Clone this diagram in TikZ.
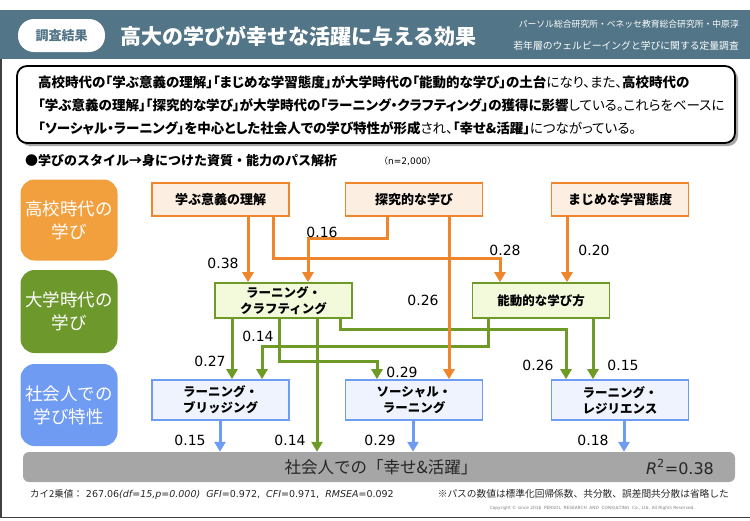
\documentclass[tikz,border=0pt]{standalone}
\usepackage{fontspec}
\setmainfont{Noto Sans CJK JP}
\newfontfamily\pfont[RawFeature=+palt]{Noto Sans CJK JP}
\newfontfamily\vfont{DejaVu Sans}
\usetikzlibrary{arrows.meta}
\definecolor{hdr}{HTML}{527587}
\definecolor{corange}{HTML}{F2A03E}
\definecolor{cgreen}{HTML}{6C982C}
\definecolor{cblue}{HTML}{6F9BF2}
\definecolor{oline}{HTML}{F0862C}
\definecolor{ofill}{HTML}{FDEEE2}
\definecolor{gline}{HTML}{6E9A28}
\definecolor{gfill}{HTML}{F2FADB}
\definecolor{bline}{HTML}{6E9CF2}
\definecolor{bfill}{HTML}{EEF3FD}
\definecolor{outg}{HTML}{A6A6A6}
\begin{document}
\begin{tikzpicture}[x=1pt,y=-1pt,
  catbox/.style={rounded corners=14pt, minimum width=97pt, minimum height=81pt, text=white, align=center,
     font=\fontsize{17.5}{23}\selectfont, inner sep=0pt},
  obox/.style={draw=oline, line width=1.6pt, fill=ofill, minimum width=137pt, minimum height=33pt,
     font=\bfseries\fontsize{13}{16}\selectfont, inner sep=0pt, align=center},
  gbox/.style={draw=gline, line width=1.6pt, fill=gfill, minimum width=137pt, minimum height=35pt,
     font=\bfseries\fontsize{12.5}{16}\selectfont, inner sep=0pt, align=center},
  bbox/.style={draw=bline, line width=1.6pt, fill=bfill, minimum width=137pt, minimum height=40pt,
     font=\bfseries\fontsize{12.5}{16}\selectfont, inner sep=0pt, align=center},
  oarr/.style={draw=oline, line width=3pt, -{Triangle[width=11pt,length=10pt]}},
  garr/.style={draw=gline, line width=3pt, -{Triangle[width=11pt,length=10pt]}},
  barr/.style={draw=bline, line width=3pt, -{Triangle[width=11pt,length=10pt]}},
  num/.style={font=\vfont\fontsize{14}{16}\selectfont, inner sep=0pt},
  sumtxt/.style={anchor=west, inner sep=0pt, font=\pfont\fontsize{13.5}{16}\selectfont}
]
\useasboundingbox (0,0) rectangle (750,520);
% frame
\draw[line width=1.5pt, draw=black!75] (0.75,10) -- (0.75,517.5) -- (750,517.5);
% header
\fill[hdr] (0,10) rectangle (750,59);
\node[fill=white, rounded corners=16pt, minimum width=87pt, minimum height=33pt, inner sep=0pt,
  text=hdr, font=\bfseries\fontsize{13}{15}\selectfont] (pill) at (61.5,35.5) {調査結果};
\node[anchor=west, text=white, inner sep=0pt, font=\bfseries\fontsize{21}{24}\selectfont] (title) at (120,36) {高大の学びが幸せな活躍に与える効果};
\node[anchor=east, text=white, inner sep=0pt, font=\fontsize{8.8}{10}\selectfont] (src1) at (739,24) {パーソル総合研究所・ベネッセ教育総合研究所・中原淳};
\node[anchor=east, text=white, inner sep=0pt, font=\fontsize{9.8}{11}\selectfont] (src2) at (739,46) {若年層のウェルビーイングと学びに関する定量調査};
% summary box
\fill[black!35, rounded corners=10pt] (20,69) rectangle (738,146);
\draw[fill=white, line width=1.8pt, rounded corners=10pt] (17,66) rectangle (735,143);
\node[sumtxt] (s1) at (38,82) {\textbf{高校時代の「学ぶ意義の理解」「まじめな学習態度」が大学時代の「能動的な学び」の土台}になり、また、\textbf{高校時代の}};
\node[sumtxt] (s2) at (38,105) {\textbf{「学ぶ意義の理解」「探究的な学び」が大学時代の「ラーニング・クラフティング」の獲得に影響}している。これらをベースに};
\node[sumtxt] (s3) at (38,128) {\textbf{「ソーシャル・ラーニング」を中心とした社会人での学び特性が形成}され、\textbf{「幸せ\&活躍」}につながっている。};
% section heading
\node[anchor=west, inner sep=0pt, font=\bfseries\fontsize{13}{15}\selectfont] (sec) at (25,161) {●学びのスタイル→身につけた資質・能力のパス解析};
\node[anchor=west, inner sep=0pt, font=\fontsize{9}{11}\selectfont] (nn) at (379,161) {（{\vfont n=2,000}）};
% category boxes
\node[catbox, fill=corange] (k1) at (69,220) {高校時代の\\学び};
\node[catbox, fill=cgreen, minimum height=83pt] (k2) at (69,311.5) {大学時代の\\学び};
\node[catbox, fill=cblue, minimum height=82pt] (k3) at (69,405) {社会人での\\学び特性};
% path nodes
\node[obox] (A) at (220.5,199.5) {学ぶ意義の理解};
\node[obox] (B) at (414,199.5) {探究的な学び};
\node[obox] (C) at (620,199.5) {まじめな学習態度};
\node[gbox] (D) at (283.5,300.5) {ラーニング・\\クラフティング};
\node[gbox] (E) at (541,300.5) {能動的な学び方};
\node[bbox] (F) at (220.5,400) {ラーニング・\\ブリッジング};
\node[bbox] (G) at (414,400) {ソーシャル・\\ラーニング};
\node[bbox] (H) at (620,400) {ラーニング・\\レジリエンス};
% outcome bar
\node[fill=outg, rounded corners=6pt, minimum width=712pt, minimum height=30pt, inner sep=0pt] (O) at (379,467) {};
\node[inner sep=0pt, font=\fontsize{16.5}{18}\selectfont, text=black!85] (Ot) at (381,467) {社会人での「幸せ\&活躍」};
\node[inner sep=0pt, font=\vfont\fontsize{16}{18}\selectfont, text=black!85] (R2) at (680,467) {\textit{R}\textsuperscript{2}=0.38};
% column coordinates
\foreach \c in {220,232,248,262,273,279,308,317,340,377,387,413,449,488,500,566,567,593,624}
  \coordinate (c\c) at (\c,0);
% green connectors
\draw[garr] (D.south -| c232) -- (F.north -| c232);
\draw[garr] (E.south -| c488) -- (488,346) -- (262,346) -- (F.north -| c262);
\draw[garr] (D.south -| c279) -- (279,361) -- (377,361) -- (G.north -| c377);
\draw[garr] (D.south -| c317) -- (O.north -| c317);
\draw[garr] (D.south -| c340) -- (340,329) -- (566,329) -- (H.north -| c566);
\draw[garr] (E.south -| c593) -- (H.north -| c593);
% orange connectors
\draw[oarr] (A.south -| c248) -- (D.north -| c248);
\draw[oarr] (A.south -| c273) -- (273,258) -- (500,258) -- (E.north -| c500);
\draw[oarr] (B.south -| c387) -- (387,238) -- (308,238) -- (D.north -| c308);
\draw[oarr] (B.south -| c449) -- (G.north -| c449);
\draw[oarr] (C.south -| c567) -- (E.north -| c567);
% blue connectors
\draw[barr] (F.south -| c220) -- (O.north -| c220);
\draw[barr] (G.south -| c413) -- (O.north -| c413);
\draw[barr] (H.south -| c624) -- (O.north -| c624);
% labels
\node[num] (l1) at (223,263) {0.38};
\node[num] (l2) at (322,232) {0.16};
\node[num] (l3) at (505,250) {0.28};
\node[num] (l4) at (594,250) {0.20};
\node[num] (l5) at (423,300) {0.26};
\node[num] (l6) at (210,361) {0.27};
\node[num] (l7) at (258,336) {0.14};
\node[num] (l8) at (402,372) {0.29};
\node[num] (l9) at (538,365) {0.26};
\node[num] (l10) at (623,365) {0.15};
\node[num] (l11) at (190,440) {0.15};
\node[num] (l12) at (290,440) {0.14};
\node[num] (l13) at (380,440) {0.29};
\node[num] (l14) at (593,440) {0.18};
% footer
\node[anchor=west, inner sep=0pt, font=\fontsize{9.5}{11}\selectfont, text=black!85] (stat) at (30,494)
  {カイ2乗値：{\vfont\ 267.06\textit{(df=15,p=0.000)}\ \ \textit{GFI}=0.972,\ \ \textit{CFI}=0.971,\ \ \textit{RMSEA}=0.092}};
\node[anchor=east, inner sep=0pt, font=\fontsize{9.7}{11}\selectfont, text=black!85] (note) at (729,494)
  {※パスの数値は標準化回帰係数、共分散、誤差間共分散は省略した};
\node[anchor=east, inner sep=0pt, font=\vfont\fontsize{4.3}{5}\selectfont, text=black!50] (copy) at (695,508)
  {Copyright \copyright\ since 2016\ \ PERSOL\ \ RESEARCH\ \ AND\ \ CONSULTING\ \ Co., Ltd. All Rights Reserved.};
\end{tikzpicture}
\end{document}
